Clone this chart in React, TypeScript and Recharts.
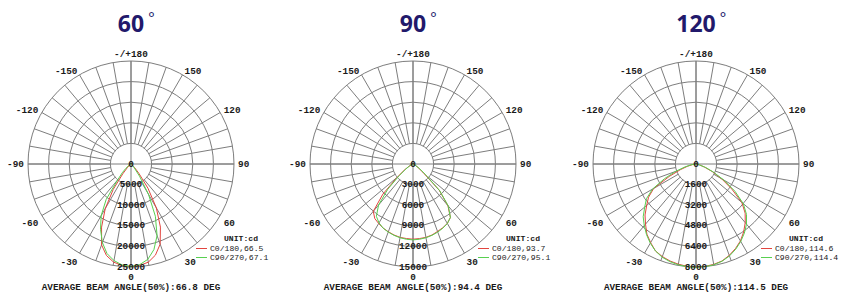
import React from 'react';
import {
  RadarChart,
  Radar,
  PolarGrid,
  PolarAngleAxis,
  PolarRadiusAxis,
  Legend,
} from 'recharts';

const MONO = '"Liberation Mono", "Courier New", monospace';
const PANEL_W = 282;
const PANEL_H = 305;
const CX = 131;
const CY = 164;
const OUTER = 103;
const NO_MARGIN = { top: 0, right: 0, bottom: 0, left: 0 };
const RED = '#e2453f';
const GREEN = '#58d050';
const GRID = '#7d7d7d';
const TEXT = '#1a1a1a';
const TITLE = '#22196b';

// spokes of the grid, every 10 deg, clockwise from the top
const GRID_ANGLES = [
  180, 170, 160, 150, 140, 130, 120, 110, 100, 90, 80, 70, 60, 50, 40, 30, 20, 10,
  0, -10, -20, -30, -40, -50, -60, -70, -80, -90, -100, -110, -120, -130, -140, -150, -160, -170,
];

// full circle of the curves, every 5 deg, clockwise from the top
const CIRCLE_ANGLES = [
  180, 175, 170, 165, 160, 155, 150, 145, 140, 135, 130, 125, 120, 115, 110, 105, 100, 95,
  90, 85, 80, 75, 70, 65, 60, 55, 50, 45, 40, 35, 30, 25, 20, 15, 10, 5,
  0, -5, -10, -15, -20, -25, -30, -35, -40, -45, -50, -55, -60, -65, -70, -75, -80, -85,
  -90, -95, -100, -105, -110, -115, -120, -125, -130, -135, -140, -145, -150, -155, -160, -165, -170, -175,
];

// lower half, where the light goes
const BEAM_ANGLES = [
  -90, -85, -80, -75, -70, -65, -60, -55, -50, -45, -40, -35, -30, -25, -20, -15, -10, -5,
  0, 5, 10, 15, 20, 25, 30, 35, 40, 45, 50, 55, 60, 65, 70, 75, 80, 85, 90,
];

const LABELED_ANGLES = [180, 150, 120, 90, 60, 30, 0, -30, -60, -90, -120, -150];

const TICKS_60 = [0, 5000, 10000, 15000, 20000, 25000];
const TICKS_90 = [0, 3000, 6000, 9000, 12000, 15000];
const TICKS_120 = [0, 1600, 3200, 4800, 6400, 8000];

// 60 deg lens (cd), over BEAM_ANGLES
const C0_60 = [
  0, 0, 0, 0, 50, 100, 200, 350, 600, 1300, 3100, 7500, 12500, 16900, 20900, 23000, 24200, 24700,
  24900, 24700, 24200, 22900, 20700, 16900, 12300, 7200, 3000, 1200, 500, 250, 120, 50, 0, 0, 0, 0, 0,
];
const C90_60 = [
  0, 0, 0, 0, 50, 150, 300, 700, 1600, 3000, 5000, 10500, 14500, 17500, 20300, 22500, 23800, 24600,
  24900, 24500, 23500, 21500, 18500, 14000, 8500, 3600, 1300, 500, 200, 100, 50, 0, 0, 0, 0, 0, 0,
];

// 90 deg lens (cd)
const C0_90 = [
  0, 0, 0, 0, 100, 300, 700, 1500, 3000, 6200, 9000, 9700, 10000, 10300, 10500, 10700, 10850, 10900,
  10950, 10900, 10850, 10700, 10450, 10250, 10000, 9500, 7900, 5400, 1900, 900, 400, 150, 50, 0, 0, 0, 0,
];
const C90_90 = [
  0, 0, 0, 50, 100, 250, 600, 1300, 2600, 5200, 7800, 9300, 9900, 10300, 10550, 10750, 10900, 11000,
  11050, 11000, 10900, 10750, 10550, 10300, 10000, 9500, 8000, 5500, 2300, 1100, 500, 200, 80, 0, 0, 0, 0,
];

// 120 deg lens (cd)
const C0_120 = [
  0, 100, 300, 700, 1300, 2300, 3800, 4500, 5000, 5600, 6100, 6650, 7050, 7450, 7650, 7800, 7900, 7980,
  8000, 7980, 7920, 7800, 7550, 7250, 6900, 6450, 5950, 5400, 4650, 3400, 2300, 1400, 700, 300, 100, 0, 0,
];
const C90_120 = [
  0, 150, 400, 900, 1700, 2700, 3900, 4700, 5200, 5800, 6250, 6700, 7100, 7450, 7700, 7850, 7950, 8000,
  8020, 8000, 7950, 7820, 7600, 7300, 6950, 6550, 6100, 5550, 4800, 3700, 2500, 1500, 800, 300, 100, 0, 0,
];

const PANELS = [
  {
    left: 0,
    title: '60',
    ticks: TICKS_60,
    c0: C0_60,
    c90: C90_60,
    c0Name: 'C0/180,66.5',
    c90Name: 'C90/270,67.1',
    avg: 'AVERAGE BEAM ANGLE(50%):66.8 DEG',
  },
  {
    left: 282,
    title: '90',
    ticks: TICKS_90,
    c0: C0_90,
    c90: C90_90,
    c0Name: 'C0/180,93.7',
    c90Name: 'C90/270,95.1',
    avg: 'AVERAGE BEAM ANGLE(50%):94.4 DEG',
  },
  {
    left: 565,
    title: '120',
    ticks: TICKS_120,
    c0: C0_120,
    c90: C90_120,
    c0Name: 'C0/180,114.6',
    c90Name: 'C90/270,114.4',
    avg: 'AVERAGE BEAM ANGLE(50%):114.5 DEG',
  },
];

const GRID_ROWS = GRID_ANGLES.map((angle) => ({ angle, v: 0 }));

function buildRows(c0: number[], c90: number[]) {
  return CIRCLE_ANGLES.map((angle) => {
    const i = BEAM_ANGLES.indexOf(angle);
    return { angle, c0: i < 0 ? 0 : c0[i], c90: i < 0 ? 0 : c90[i] };
  });
}

function AngleTick(props: any) {
  const { x, y, textAnchor, payload } = props;
  const v = payload.value;
  if (!LABELED_ANGLES.includes(v)) return <g />;
  const label = v === 180 ? '-/+180' : String(v);
  // lower labels hang below their point, the top one sits clear of the ring
  let dy = 0;
  if (y > CY + 1) dy = 6;
  if (v === 180) dy = -3;
  return (
    <text
      x={x}
      y={y + dy}
      textAnchor={textAnchor}
      dominantBaseline="central"
      fontFamily={MONO}
      fontSize={9.4}
      fontWeight="bold"
      fill={TEXT}
    >
      {label}
    </text>
  );
}

function RadiusTick(props: any) {
  const { x, y, payload } = props;
  return (
    <text
      x={x}
      y={y}
      textAnchor="middle"
      dominantBaseline="central"
      fontFamily={MONO}
      fontSize={9.4}
      fontWeight="bold"
      fill={TEXT}
    >
      {payload.value}
    </text>
  );
}

function LegendBox(props: any) {
  const payload = props.payload || [];
  return (
    <div style={{ fontFamily: MONO, fontSize: 8.1, lineHeight: '9.6px', color: TEXT }}>
      <div style={{ paddingLeft: 28, fontWeight: 'bold' }}>UNIT:cd</div>
      {payload.map((e: any) => (
        <div key={e.value} style={{ display: 'flex', alignItems: 'center', whiteSpace: 'nowrap' }}>
          <span style={{ width: 11, height: 0, borderTop: `1px solid ${e.color}`, marginRight: 3 }} />
          <span>{e.value}</span>
        </div>
      ))}
    </div>
  );
}

function Panel({ panel }: { panel: (typeof PANELS)[number] }) {
  const rows = buildRows(panel.c0, panel.c90);
  const max = panel.ticks[panel.ticks.length - 1];

  return (
    <div style={{ position: 'absolute', left: panel.left, top: 0, width: PANEL_W, height: PANEL_H }}>
      {/* spokes, starting at the first ring */}
      <div style={{ position: 'absolute', left: 0, top: 0 }}>
        <RadarChart
          width={PANEL_W}
          height={PANEL_H}
          data={GRID_ROWS}
          cx={CX}
          cy={CY}
          innerRadius={OUTER / 5}
          outerRadius={OUTER}
          startAngle={90}
          endAngle={-270}
          margin={NO_MARGIN}
        >
          <PolarGrid gridType="circle" polarRadius={[]} stroke={GRID} />
          <PolarAngleAxis dataKey="angle" tick={false} axisLine={false} tickLine={false} />
          <PolarRadiusAxis domain={[0, 1]} tick={false} axisLine={false} />
          <Radar dataKey="v" stroke="none" fill="none" dot={false} isAnimationActive={false} />
        </RadarChart>
      </div>

      {/* rings, axes, curves */}
      <div style={{ position: 'absolute', left: 0, top: 0 }}>
        <RadarChart
          width={PANEL_W}
          height={PANEL_H}
          data={rows}
          cx={CX}
          cy={CY}
          innerRadius={0}
          outerRadius={OUTER}
          startAngle={90}
          endAngle={-270}
          margin={NO_MARGIN}
        >
          <PolarGrid gridType="circle" polarAngles={[0, 90, 180, 270]} stroke={GRID} />
          <PolarAngleAxis
            dataKey="angle"
            tick={AngleTick}
            tickSize={4}
            axisLine={false}
            tickLine={false}
          />
          <PolarRadiusAxis
            type="number"
            angle={270}
            domain={[0, max]}
            ticks={panel.ticks}
            tickCount={panel.ticks.length}
            allowDataOverflow
            tick={RadiusTick}
            axisLine={false}
            tickLine={false}
          />
          <Radar
            name={panel.c0Name}
            dataKey="c0"
            stroke={RED}
            strokeWidth={1}
            fill="none"
            fillOpacity={0}
            dot={false}
            isAnimationActive={false}
          />
          <Radar
            name={panel.c90Name}
            dataKey="c90"
            stroke={GREEN}
            strokeWidth={1}
            fill="none"
            fillOpacity={0}
            dot={false}
            isAnimationActive={false}
          />
          <Legend
            layout="vertical"
            align="center"
            verticalAlign="middle"
            content={(p: any) => <LegendBox {...p} />}
            wrapperStyle={{ left: 196, top: 234, width: 90 }}
          />
        </RadarChart>
      </div>

      <div
        style={{
          position: 'absolute',
          left: CX - 60,
          top: 11.6,
          width: 120,
          textAlign: 'center',
        }}
      >
        <span
          style={{
            position: 'relative',
            display: 'inline-block',
            fontFamily: '"Noto Sans", sans-serif',
            fontWeight: 700,
            fontSize: 23,
            lineHeight: '23px',
            color: TITLE,
          }}
        >
          {panel.title}
          <span
            style={{
              position: 'absolute',
              left: '100%',
              top: -2,
              marginLeft: 4,
              fontSize: 15,
              lineHeight: '15px',
              fontWeight: 400,
            }}
          >
            °
          </span>
        </span>
      </div>

      <div
        style={{
          position: 'absolute',
          left: CX - 130,
          width: 260,
          top: 282,
          textAlign: 'center',
          fontFamily: MONO,
          fontSize: 9.3,
          fontWeight: 'bold',
          lineHeight: '11px',
          whiteSpace: 'nowrap',
          color: TEXT,
        }}
      >
        {panel.avg}
      </div>
    </div>
  );
}

export default function App() {
  return (
    <div
      style={{
        position: 'absolute',
        left: 0,
        top: 0,
        width: 858,
        height: 305,
        background: '#fff',
        overflow: 'hidden',
      }}
    >
      {PANELS.map((p) => (
        <Panel key={p.title} panel={p} />
      ))}
    </div>
  );
}
